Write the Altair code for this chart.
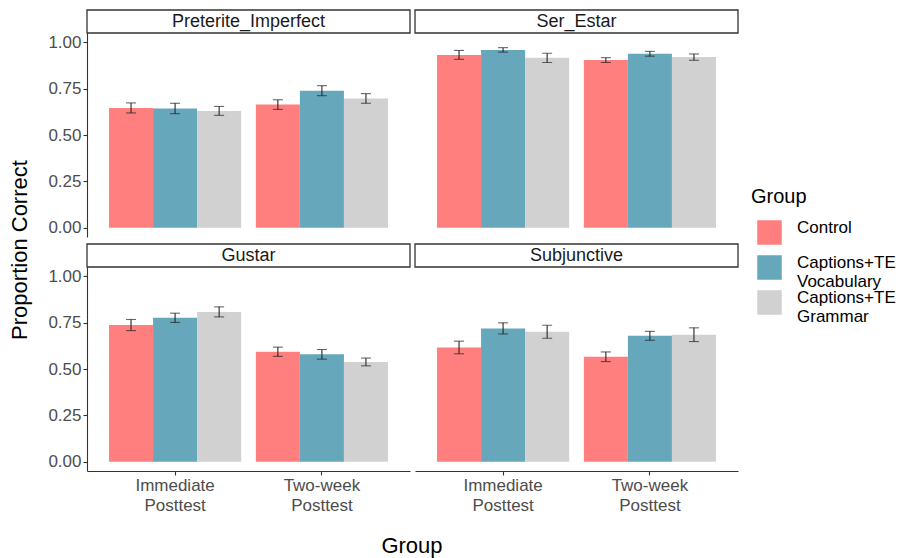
import altair as alt
import pandas as pd

FONT = "Liberation Sans"

panels = ["Preterite_Imperfect", "Ser_Estar", "Gustar", "Subjunctive"]
tests = ["Immediate Posttest", "Two-week Posttest"]
groups = ["Control", "Captions+TE Vocabulary", "Captions+TE Grammar"]
colors = ["#FF7F7F", "#66A7BC", "#D1D1D1"]

# means: [immediate (Control, Vocab, Grammar)], [two-week (...)]
pret_mean = [[0.646, 0.643, 0.630], [0.664, 0.739, 0.697]]
pret_err = [[0.027, 0.028, 0.024], [0.026, 0.027, 0.026]]
ser_mean = [[0.932, 0.959, 0.916], [0.904, 0.938, 0.920]]
ser_err = [[0.024, 0.012, 0.025], [0.013, 0.013, 0.017]]
gus_mean = [[0.737, 0.776, 0.808], [0.593, 0.579, 0.538]]
gus_err = [[0.030, 0.025, 0.027], [0.025, 0.026, 0.021]]
sub_mean = [[0.616, 0.719, 0.701], [0.566, 0.679, 0.685]]
sub_err = [[0.034, 0.030, 0.035], [0.026, 0.024, 0.037]]

y_ticks = [0, 0.25, 0.5, 0.75, 1.0]

rows = []
for p, means, errs in zip(panels, [pret_mean, ser_mean, gus_mean, sub_mean],
                          [pret_err, ser_err, gus_err, sub_err]):
    for ti, t in enumerate(tests):
        for gi, g in enumerate(groups):
            m = means[ti][gi]
            e = errs[ti][gi]
            rows.append({"Panel": p, "Test": t, "Group": g, "Mean": m,
                         "Lo": m - e, "Hi": m + e})
df = pd.DataFrame(rows)

W, H, SH = 323, 204, 23
ERR = "#262626"


def panel(name, show_x, show_y):
    d = df[df["Panel"] == name]
    base = alt.Chart(d)
    xscale = alt.Scale(domain=tests, paddingInner=0.1, paddingOuter=0.15)
    if show_x:
        x = alt.X("Test:N", scale=xscale, title=None,
                  axis=alt.Axis(labelExpr="split(datum.label, ' ')", labelAngle=0,
                                labelLineHeight=20, labelFontSize=17))
    else:
        x = alt.X("Test:N", scale=xscale, title=None, axis=None)
    xo = alt.XOffset("Group:N", sort=groups,
                     scale=alt.Scale(domain=groups, paddingInner=0, paddingOuter=0))
    yscale = alt.Scale(domain=[-0.05, 1.05], nice=False, zero=False)
    if show_y:
        yaxis = alt.Axis(values=y_ticks, format=".2f", labelFontSize=17)
    else:
        yaxis = None

    def Y(field):
        return alt.Y(field, scale=yscale, title=None, axis=yaxis)

    bars = base.mark_bar().encode(
        x=x, xOffset=xo, y=Y("Mean:Q"), y2=alt.datum(0),
        color=alt.Color("Group:N", sort=groups,
                        scale=alt.Scale(domain=groups, range=colors),
                        legend=alt.Legend(title="Group",
                                          labelExpr="split(datum.label, ' ')")),
    )
    rule = base.mark_rule(color=ERR, strokeWidth=1.1).encode(
        x=x, xOffset=xo, y=Y("Lo:Q"), y2="Hi:Q")
    cap_lo = base.mark_tick(color=ERR, size=10, thickness=1.1, orient="horizontal").encode(
        x=x, xOffset=xo, y=Y("Lo:Q"))
    cap_hi = base.mark_tick(color=ERR, size=10, thickness=1.1, orient="horizontal").encode(
        x=x, xOffset=xo, y=Y("Hi:Q"))

    sdata = alt.Chart(pd.DataFrame({"Panel": [name]}))
    strip_rect = sdata.mark_rect(fill="white", stroke="#333333", strokeWidth=1.3).encode(
        x=alt.value(0), x2=alt.value(W), y=alt.value(-SH), y2=alt.value(0))
    strip_text = sdata.mark_text(font=FONT, fontSize=18, color="#1A1A1A",
                                 baseline="middle", align="center").encode(
        text="Panel:N", x=alt.value(W / 2), y=alt.value(-SH / 2))

    return alt.layer(bars, rule, cap_lo, cap_hi, strip_rect, strip_text).properties(
        width=W, height=H)


row1 = alt.hconcat(panel(panels[0], False, True), panel(panels[1], False, False), spacing=1)
row2 = alt.hconcat(panel(panels[2], True, True), panel(panels[3], True, False), spacing=1)
grid = alt.vconcat(row1, row2, spacing=4)

xtitle = alt.Chart(pd.DataFrame({"t": ["Group"]})).mark_text(
    font=FONT, fontSize=22, color="black", baseline="middle", align="center").encode(
    text="t:N", x=alt.value(325), y=alt.value(13)).properties(width=650, height=24)

main = alt.vconcat(grid, xtitle, spacing=18)

ytitle = alt.Chart(pd.DataFrame({"t": ["Proportion Correct"]})).mark_text(
    font=FONT, fontSize=22, color="black", baseline="middle", align="center",
    angle=270).encode(
    text="t:N", x=alt.value(10), y=alt.value(217)).properties(width=20, height=440)

chart = alt.hconcat(ytitle, main, spacing=15).properties(
    padding={"left": 0, "top": 0, "right": 0, "bottom": 0},
    background="white",
).configure_view(stroke="transparent").configure_axis(
    labelFont=FONT, titleFont=FONT, grid=False, domainColor="#333333",
    tickColor="#333333", labelColor="#4D4D4D", tickSize=4, labelPadding=2,
    domainWidth=1.1, tickWidth=1.1,
).configure_legend(
    orient="none", legendX=741, legendY=154,
    titleFont=FONT, labelFont=FONT, titleFontSize=20, titleFontWeight="normal",
    titleColor="black", labelColor="black", labelFontSize=17,
    labelBaseline="alphabetic",
    symbolType="square", symbolSize=600, symbolStrokeWidth=0, symbolOpacity=1,
    symbolOffset=6, labelOffset=15, titlePadding=13, rowPadding=-4.5, gridAlign="all",
)

chart.save("out.html", embed_options={"renderer": "svg", "actions": False})
